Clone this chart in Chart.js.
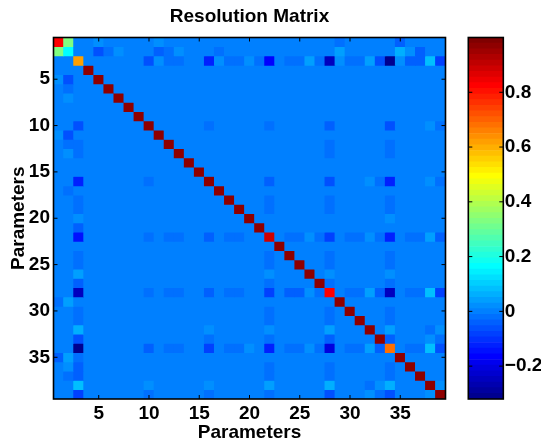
<!DOCTYPE html>
<html>
<head>
<meta charset="utf-8">
<script src="https://cdn.jsdelivr.net/npm/chart.js@4.4.0/dist/chart.umd.min.js"></script>
<style>
html, body { margin: 0; padding: 0; background: #ffffff; }
#wrap { position: relative; width: 541px; height: 442px; overflow: hidden; }
#wrap canvas { position: absolute; left: 0; top: 0; }
</style>
</head>
<body>
<div id="wrap">
  <canvas id="main" width="541" height="442"></canvas>
  <canvas id="cbar" width="541" height="442"></canvas>
</div>
<script>
// ---------- texts ----------
const chartTitle = 'Resolution Matrix';
const xAxisTitle = 'Parameters';
const yAxisTitle = 'Parameters';

// ---------- categories / ticks ----------
const parameters = [1,2,3,4,5,6,7,8,9,10,11,12,13,14,15,16,17,18,19,20,21,22,23,24,25,26,27,28,29,30,31,32,33,34,35,36,37,38,39];
const axisTicks = [5, 10, 15, 20, 25, 30, 35];
const colorbarTicks = [-0.2, 0, 0.2, 0.4, 0.6, 0.8];
const colorLimits = [-0.32, 1.0];

// ---------- resolution matrix rows (row i, columns 1..39) ----------
const row01 = [.82,.33,0,0,.02, 0,0,0,0,0, .02,0,0,0,0, 0,0,0,0,0, 0,0,0,0,0, 0,0,0,-.02,0, 0,0,0,0,-.04, 0,0,0,0];
const row02 = [.33,.16,0,0,-.06, -.02,.02,0,0,0, -.04,-.02,.02,0,0, 0,-.02,0,0,0, 0,0,0,0,0, 0,0,0,.04,0, 0,0,0,0,.06, .02,-.04,0,0];
const row03 = [0,0,.62,0,0, 0,0,0,0,-.06, .02,-.02,-.02,0,0, -.12,.02,-.02,-.02,.02, -.02,-.165,0,-.02,-.02, .04,-.02,-.25,.02,-.02, -.02,.04,-.06,-.31,.02, -.04,-.04,.08,-.08];
const row04 = [0,0,0,.97,0, 0,0,0,0,0, 0,0,0,0,0, 0,0,0,0,0, 0,0,0,0,0, 0,0,0,0,0, 0,0,0,0,0, 0,0,0,0];
const row05 = [.02,-.06,0,0,.97, 0,0,0,0,0, 0,0,0,0,0, 0,0,0,0,0, 0,0,0,0,0, 0,0,0,0,0, 0,0,0,0,0, 0,0,0,0];
const row06 = [0,-.02,0,0,0, .97,0,0,0,0, 0,0,0,0,0, 0,0,0,0,0, 0,0,0,0,0, 0,0,0,0,0, 0,0,0,0,0, 0,0,0,0];
const row07 = [0,.02,0,0,0, 0,.97,0,0,0, 0,0,0,0,0, 0,0,0,0,0, 0,0,0,0,0, 0,0,0,0,0, 0,0,0,0,0, 0,0,0,0];
const row08 = [0,0,0,0,0, 0,0,.97,0,0, 0,0,0,0,0, 0,0,0,0,0, 0,0,0,0,0, 0,0,0,0,0, 0,0,0,0,0, 0,0,0,0];
const row09 = [0,0,0,0,0, 0,0,0,.97,0, 0,0,0,0,0, 0,0,0,0,0, 0,0,0,0,0, 0,0,0,0,0, 0,0,0,0,0, 0,0,0,0];
const row10 = [0,0,-.06,0,0, 0,0,0,0,.97, 0,0,0,0,0, -.02,0,0,0,0, 0,-.02,0,0,0, 0,0,-.04,0,0, 0,0,0,-.06,0, 0,0,.02,-.02];
const row11 = [.02,-.06,0,0,0, 0,0,0,0,0, .97,0,0,0,0, 0,0,0,0,0, 0,0,0,0,0, 0,0,0,0,0, 0,0,0,0,0, 0,0,0,0];
const row12 = [0,-.02,-.02,0,0, 0,0,0,0,0, 0,.97,0,0,0, 0,0,0,0,0, 0,0,0,0,0, 0,0,-.02,0,0, 0,0,0,-.02,0, 0,0,0,0];
const row13 = [0,.02,-.02,0,0, 0,0,0,0,0, 0,0,.97,0,0, 0,0,0,0,0, 0,0,0,0,0, 0,0,-.02,0,0, 0,0,0,-.02,0, 0,0,0,0];
const row14 = [0,0,0,0,0, 0,0,0,0,0, 0,0,0,.97,0, 0,0,0,0,0, 0,0,0,0,0, 0,0,0,0,0, 0,0,0,0,0, 0,0,0,0];
const row15 = [0,0,0,0,0, 0,0,0,0,0, 0,0,0,0,.97, 0,0,0,0,0, 0,0,0,0,0, 0,0,0,0,0, 0,0,0,0,0, 0,0,0,0];
const row16 = [0,0,-.12,0,0, 0,0,0,0,-.02, 0,0,0,0,0, .97,0,0,0,0, 0,-.04,0,0,0, 0,0,-.06,0,0, 0,.02,-.02,-.12,0, 0,0,.02,-.02];
const row17 = [0,-.02,0,0,0, 0,0,0,0,0, 0,0,0,0,0, 0,.97,0,0,0, 0,0,0,0,0, 0,0,0,0,0, 0,0,0,0,0, 0,0,0,0];
const row18 = [0,0,-.02,0,0, 0,0,0,0,0, 0,0,0,0,0, 0,0,.97,0,0, 0,-.02,0,0,0, 0,0,-.02,0,0, 0,0,0,-.02,0, 0,0,0,0];
const row19 = [0,0,-.02,0,0, 0,0,0,0,0, 0,0,0,0,0, 0,0,0,.97,0, 0,-.02,0,0,0, 0,0,-.02,0,0, 0,0,0,-.02,0, 0,0,0,0];
const row20 = [0,0,.02,0,0, 0,0,0,0,0, 0,0,0,0,0, 0,0,0,0,.97, 0,0,0,0,0, 0,0,0,0,0, 0,0,0,.02,0, 0,0,0,0];
const row21 = [0,0,-.04,0,0, 0,0,0,0,0, 0,0,0,0,0, 0,0,0,0,0, .97,0,0,0,0, 0,0,0,0,0, 0,0,0,0,0, 0,0,0,0];
const row22 = [0,0,-.15,0,0, 0,0,0,0,-.02, 0,-.02,-.02,0,0, -.04,0,-.02,-.02,0, 0,.89,0,-.02,-.02, .02,-.02,-.08,0,-.02, -.02,.02,-.02,-.12,0, -.02,-.02,.04,-.04];
const row23 = [0,0,0,0,0, 0,0,0,0,0, 0,0,0,0,0, 0,0,0,0,0, 0,0,.97,0,0, 0,0,0,0,0, 0,0,0,0,0, 0,0,0,0];
const row24 = [0,0,-.02,0,0, 0,0,0,0,0, 0,0,0,0,0, 0,0,0,0,0, 0,-.02,0,.97,0, 0,0,-.02,0,0, 0,0,0,-.02,0, 0,0,0,0];
const row25 = [0,0,-.02,0,0, 0,0,0,0,0, 0,0,0,0,0, 0,0,0,0,0, 0,-.02,0,0,.97, 0,0,-.02,0,0, 0,0,0,-.02,0, 0,0,0,0];
const row26 = [0,0,.04,0,0, 0,0,0,0,0, 0,0,0,0,0, 0,0,0,0,0, 0,.02,0,0,0, .97,0,.02,0,0, 0,0,0,.02,0, 0,0,0,0];
const row27 = [0,0,-.04,0,0, 0,0,0,0,0, 0,0,0,0,0, 0,0,0,0,0, 0,-.02,0,0,0, 0,.97,-.02,0,0, 0,0,0,-.02,0, 0,0,0,0];
const row28 = [0,0,-.25,0,0, 0,0,0,0,-.02, 0,-.02,-.02,0,0, -.04,0,-.02,-.02,0, 0,-.08,0,-.04,-.04, .02,-.02,.82,0,-.02, -.02,.04,-.04,-.25,0, -.02,-.02,.08,-.08];
const row29 = [-.02,.04,0,0,0, 0,0,0,0,0, 0,0,0,0,0, 0,0,0,0,0, 0,0,0,0,0, 0,0,0,.97,0, 0,0,0,0,0, 0,0,0,0];
const row30 = [0,0,-.02,0,0, 0,0,0,0,0, 0,0,0,0,0, 0,0,0,0,0, 0,-.02,0,0,0, 0,0,-.02,0,.97, 0,0,0,-.02,0, 0,0,0,0];
const row31 = [0,0,-.02,0,0, 0,0,0,0,0, 0,0,0,0,0, 0,0,0,0,0, 0,-.02,0,0,0, 0,0,-.02,0,0, .97,0,0,-.02,0, 0,0,0,0];
const row32 = [0,0,.06,0,0, 0,0,0,0,0, 0,0,0,0,0, .02,0,0,0,0, 0,.02,0,0,0, 0,0,.04,0,0, 0,.97,0,.04,0, 0,0,-.02,.02];
const row33 = [0,0,-.06,0,0, 0,0,0,0,0, 0,0,0,0,0, -.02,0,0,0,0, 0,-.02,0,0,0, 0,0,-.04,0,0, 0,0,.97,-.04,0, 0,0,.02,-.02];
const row34 = [0,0,-.31,0,0, 0,0,0,0,-.04, 0,-.02,-.02,0,0, -.08,0,-.02,-.02,.02, 0,-.12,0,-.02,-.02, .02,-.02,-.21,0,-.02, -.02,.04,-.04,.68,0, -.02,-.02,.08,-.06];
const row35 = [-.04,.04,-.02,0,0, 0,0,0,0,0, 0,0,0,0,0, 0,0,0,0,0, 0,0,0,0,0, 0,0,0,0,0, 0,0,0,0,.97, 0,0,0,0];
const row36 = [0,.02,-.04,0,0, 0,0,0,0,0, 0,0,0,0,0, 0,0,0,0,0, 0,-.02,0,0,0, 0,0,-.02,0,0, 0,0,0,-.02,0, .97,0,0,0];
const row37 = [0,-.02,-.04,0,0, 0,0,0,0,0, 0,0,0,0,0, 0,0,0,0,0, 0,-.02,0,0,0, 0,0,-.02,0,0, 0,0,0,-.02,0, 0,.97,0,0];
const row38 = [0,0,.08,0,0, 0,0,0,0,.02, 0,0,0,0,0, .02,0,0,0,0, 0,.04,0,0,0, 0,0,.06,0,0, 0,-.02,.02,.07,0, 0,0,.97,.02];
const row39 = [0,0,-.08,0,0, 0,0,0,0,-.02, 0,0,0,0,0, -.02,0,0,0,0, 0,-.02,0,0,0, 0,0,-.06,0,0, 0,.02,-.02,-.06,0, 0,0,.02,.97];

const resolutionMatrix = [row01,row02,row03,row04,row05,row06,row07,row08,row09,row10,
  row11,row12,row13,row14,row15,row16,row17,row18,row19,row20,
  row21,row22,row23,row24,row25,row26,row27,row28,row29,row30,
  row31,row32,row33,row34,row35,row36,row37,row38,row39];

// ---------- jet(64) colormap ----------
const NCOLORS = 64;
const cMin = colorLimits[0], cMax = colorLimits[1];
function jetIndexColor(idx) {
  const x = (idx + 1) / NCOLORS;
  const ch = t => Math.round(255 * Math.max(0, Math.min(1, 1.5 - Math.abs(4 * x - t))));
  return 'rgb(' + ch(3) + ',' + ch(2) + ',' + ch(1) + ')';
}
function jetColor(v) {
  let idx = Math.floor((v - cMin) / (cMax - cMin) * NCOLORS);
  idx = Math.max(0, Math.min(NCOLORS - 1, idx));
  return jetIndexColor(idx);
}

const FONT = '"Liberation Sans", Arial, Helvetica, sans-serif';
const FS = 19;
const boldFont = (size, lh) => ({ family: FONT, size: size, weight: 'bold', lineHeight: lh || 1.2 });

// ---------- main heatmap ----------
const heatDatasets = resolutionMatrix.map((row, i) => ({
  label: 'row ' + parameters[i],
  data: row.map((v, j) => ({ x: parameters[j], y: [parameters[i] - 0.5, parameters[i] + 0.5] })),
  backgroundColor: row.map(jetColor),
  borderWidth: 0
}));

const frameTicksPlugin = {
  id: 'frameTicks',
  beforeDatasetsDraw(chart) {
    const { ctx, chartArea: a } = chart;
    ctx.save();
    ctx.fillStyle = jetColor(0);
    ctx.fillRect(a.left, a.top, a.right - a.left, a.bottom - a.top);
    ctx.restore();
  },
  afterDraw(chart) {
    const { ctx, chartArea: a } = chart;
    const xs = chart.scales.x, ys = chart.scales.y;
    ctx.save();
    ctx.strokeStyle = '#000';
    ctx.lineWidth = 1;
    ctx.beginPath();
    xs.ticks.forEach(t => {
      const px = xs.getPixelForValue(t.value);
      ctx.moveTo(px, a.bottom); ctx.lineTo(px, a.bottom - 4);
      ctx.moveTo(px, a.top); ctx.lineTo(px, a.top + 4);
    });
    ys.ticks.forEach(t => {
      const py = ys.getPixelForValue(t.value);
      ctx.moveTo(a.left, py); ctx.lineTo(a.left + 4, py);
      ctx.moveTo(a.right, py); ctx.lineTo(a.right - 4, py);
    });
    ctx.stroke();
    ctx.lineWidth = 1.6;
    ctx.strokeRect(a.left, a.top, a.right - a.left, a.bottom - a.top);
    ctx.restore();
  }
};

new Chart(document.getElementById('main'), {
  type: 'bar',
  data: { datasets: heatDatasets },
  options: {
    responsive: false,
    animation: false,
    events: [],
    layout: { padding: { left: 0, right: 95.5, top: 0, bottom: 0 } },
    datasets: { bar: { barPercentage: 1, categoryPercentage: 1, grouped: false } },
    plugins: {
      legend: { display: false },
      tooltip: { enabled: false },
      title: {
        display: true, text: chartTitle, fullSize: false, color: '#000',
        font: boldFont(FS), padding: { top: 5.4, bottom: 9.3 }
      }
    },
    scales: {
      x: {
        type: 'linear', min: 0.5, max: 39.5, offset: false,
        afterBuildTicks: s => { s.ticks = axisTicks.map(v => ({ value: v })); },
        afterFit: s => { s.height = 43; },
        grid: { display: false, drawTicks: false },
        border: { display: false },
        ticks: { color: '#000', font: boldFont(FS), padding: 3.3, maxRotation: 0, autoSkip: false },
        title: { display: true, text: xAxisTitle, color: '#000', font: boldFont(FS, 1), padding: { top: 0, bottom: 0 } }
      },
      y: {
        type: 'linear', reverse: true, min: 0.5, max: 39.5, offset: false,
        afterBuildTicks: s => { s.ticks = axisTicks.map(v => ({ value: v })); },
        afterFit: s => { s.width = 53.5; },
        grid: { display: false, drawTicks: false },
        border: { display: false },
        ticks: { color: '#000', font: boldFont(FS), padding: 3.5, autoSkip: false },
        title: { display: true, text: yAxisTitle, color: '#000', font: boldFont(FS), padding: { top: 7.1, bottom: 0 } }
      }
    }
  },
  plugins: [frameTicksPlugin]
});

// ---------- colorbar ----------
const cbarLevels = [];
for (let k = 0; k < NCOLORS; k++) cbarLevels.push(k);
const cbarDatasets = cbarLevels.map(k => ({
  label: 'level ' + k,
  data: [[cMin + k * (cMax - cMin) / NCOLORS, cMin + (k + 1) * (cMax - cMin) / NCOLORS]],
  backgroundColor: jetIndexColor(k),
  borderWidth: 0
}));

const cbarFramePlugin = {
  id: 'cbarFrame',
  afterDraw(chart) {
    const { ctx, chartArea: a } = chart;
    const ys = chart.scales.y;
    ctx.save();
    ctx.strokeStyle = '#000';
    ctx.lineWidth = 1;
    ctx.beginPath();
    ys.ticks.forEach(t => {
      const py = ys.getPixelForValue(t.value);
      ctx.moveTo(a.left, py); ctx.lineTo(a.left + 4, py);
      ctx.moveTo(a.right, py); ctx.lineTo(a.right - 4, py);
    });
    ctx.stroke();
    ctx.lineWidth = 1.6;
    ctx.strokeRect(a.left, a.top, a.right - a.left, a.bottom - a.top);
    ctx.restore();
  }
};

new Chart(document.getElementById('cbar'), {
  type: 'bar',
  data: { labels: [''], datasets: cbarDatasets },
  options: {
    responsive: false,
    animation: false,
    events: [],
    layout: { padding: { left: 468.3, right: 0, top: 37.5, bottom: 43 } },
    datasets: { bar: { barPercentage: 1, categoryPercentage: 1, grouped: false } },
    plugins: { legend: { display: false }, tooltip: { enabled: false }, title: { display: false } },
    scales: {
      x: { display: false },
      y: {
        type: 'linear', position: 'right', min: cMin, max: cMax,
        afterBuildTicks: s => { s.ticks = colorbarTicks.map(v => ({ value: v })); },
        afterFit: s => { s.width = 37.7; },
        grid: { display: false, drawTicks: false },
        border: { display: false },
        ticks: {
          color: '#000', font: boldFont(FS), padding: 1.5, autoSkip: false,
          callback: v => v === 0 ? '0' : (v < 0 ? '\u2212' + Math.abs(v).toFixed(1) : v.toFixed(1))
        }
      }
    }
  },
  plugins: [cbarFramePlugin]
});
</script>
</body>
</html>
